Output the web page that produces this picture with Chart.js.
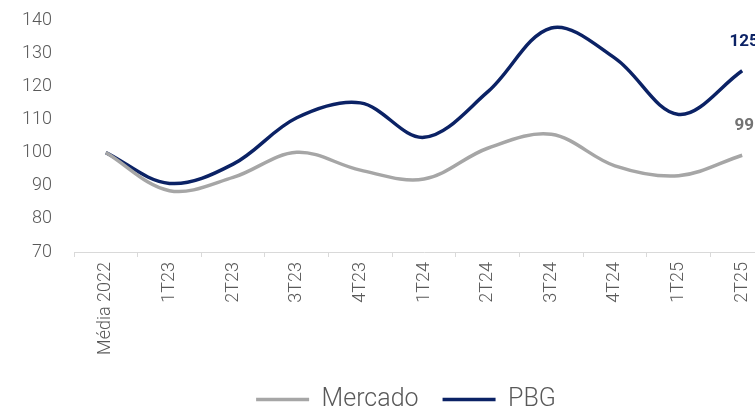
<!DOCTYPE html>
<html>
<head>
<meta charset="utf-8">
<script src="https://cdn.jsdelivr.net/npm/chart.js@4/dist/chart.umd.min.js"></script>
<style>
  html, body { margin: 0; padding: 0; background: #fff; overflow: hidden; }
  #wrap { width: 812px; height: 422px; }
</style>
</head>
<body>
<div id="wrap"><canvas id="grafik" width="812" height="422"></canvas></div>
<script>
// data
const kategori = ["Média 2022", "1T23", "2T23", "3T23", "4T23", "1T24", "2T24", "3T24", "4T24", "1T25", "2T25"];
const dataMercado = [100, 88.5, 92.5, 100.1, 94.7, 92, 101.3, 105.5, 96, 93, 99.2];
const dataPBG = [100, 90.7, 96.5, 110.5, 115, 104.6, 118.3, 137.6, 128.5, 111.5, 124.7];
const yTicks = [70, 80, 90, 100, 110, 120, 130, 140];

const FONT = "Roboto, 'Noto Sans', sans-serif";
const ABU_TEKS = '#595959';

// label nilai terakhir di atas titik ujung tiap garis
const labelUjung = {
  id: 'labelUjung',
  afterDatasetsDraw(chart) {
    const ctx = chart.ctx;
    chart.data.datasets.forEach((ds, i) => {
      const meta = chart.getDatasetMeta(i);
      const last = meta.data[meta.data.length - 1];
      if (!last) return;
      ctx.save();
      ctx.font = "bold 17px " + FONT;
      ctx.fillStyle = ds.labelColor;
      ctx.textAlign = 'center';
      ctx.textBaseline = 'middle';
      ctx.fillText(Math.round(ds.data[ds.data.length - 1]), last.x + 2, last.y - 29);
      ctx.restore();
    });
  }
};

new Chart(document.getElementById('grafik'), {
  type: 'line',
  data: {
    labels: kategori,
    datasets: [
      {
        label: 'Mercado',
        data: dataMercado,
        borderColor: '#a6a6a6',
        backgroundColor: '#a6a6a6',
        labelColor: '#737373',
        borderWidth: 3.5,
        tension: 0.35,
        pointRadius: 0
      },
      {
        label: 'PBG',
        data: dataPBG,
        borderColor: '#0b2265',
        backgroundColor: '#0b2265',
        labelColor: '#0b2265',
        borderWidth: 3.5,
        tension: 0.35,
        pointRadius: 0
      }
    ]
  },
  options: {
    responsive: false,
    animation: false,
    layout: { padding: { top: 20, right: 0, left: 0, bottom: 0 } },
    plugins: {
      tooltip: { enabled: false },
      legend: {
        position: 'bottom',
        labels: {
          usePointStyle: true,
          pointStyle: 'line',
          pointStyleWidth: 53,
          padding: 24,
          color: ABU_TEKS,
          font: { family: FONT, size: 25, weight: '300' }
        }
      }
    },
    scales: {
      x: {
        offset: true,
        border: { display: true, color: '#d9d9d9', width: 1 },
        grid: { display: true, offset: true, drawOnChartArea: false, drawTicks: true, tickLength: 5, color: '#d9d9d9' },
        ticks: {
          color: ABU_TEKS,
          padding: 5,
          minRotation: 90,
          maxRotation: 90,
          autoSkip: false,
          font: { family: FONT, size: 18, weight: '300' }
        },
        afterFit(scale) { scale.height = 111; }
      },
      y: {
        min: 70,
        max: 140,
        border: { display: false },
        // garis tidak digambar, tickLength hanya untuk jarak label ke area grafik
        grid: { display: false, drawTicks: true, tickLength: 22 },
        afterBuildTicks(scale) { scale.ticks = yTicks.map(v => ({ value: v })); },
        ticks: {
          color: ABU_TEKS,
          padding: 0,
          font: { family: FONT, size: 18, weight: '300' }
        },
        afterFit(scale) { scale.width = 74; }
      },
      // sumbu kosong di kanan, hanya untuk memberi ruang area grafik
      kanan: {
        position: 'right',
        display: true,
        border: { display: false },
        grid: { display: false, drawTicks: false },
        ticks: { display: false },
        afterFit(scale) { scale.width = 38; }
      }
    }
  },
  plugins: [labelUjung]
});
</script>
</body>
</html>
